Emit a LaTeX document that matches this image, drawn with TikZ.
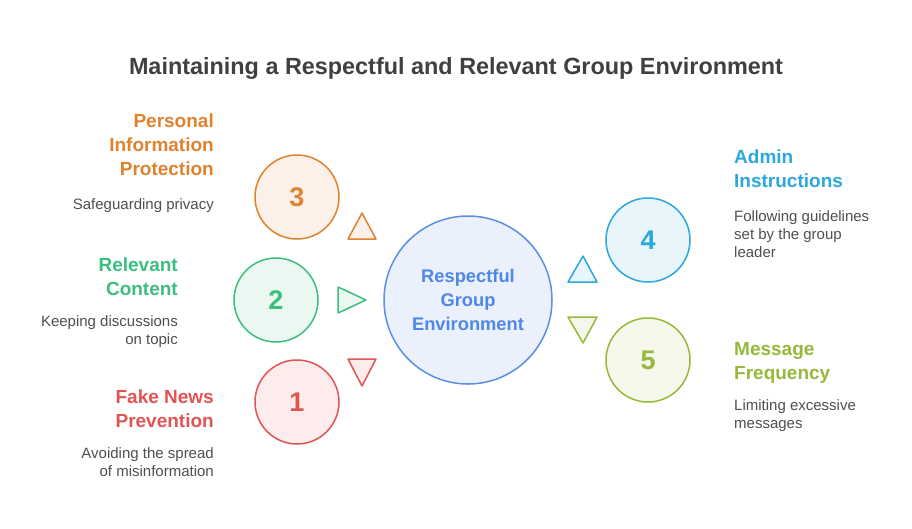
\documentclass[tikz,border=0pt]{standalone}
\usepackage{fontspec}
\setmainfont{Liberation Sans}
\definecolor{orangeC}{HTML}{E0822E}
\definecolor{greenC}{HTML}{3CBF7E}
\definecolor{redC}{HTML}{E05454}
\definecolor{cyanC}{HTML}{2CA8DA}
\definecolor{limeC}{HTML}{97B93B}
\definecolor{blueC}{HTML}{5A8EE8}
\definecolor{blueT}{HTML}{4F87E8}
\definecolor{titleC}{HTML}{404040}
\definecolor{descC}{HTML}{4F4F4F}
\tikzset{
  numcirc/.style = {circle, draw = #1, fill = #1!11, line width = 1.5, minimum size = 84, inner sep = 0,
    text = #1, font = \fontsize{27}{30}\selectfont\bfseries},
  tri/.style = {draw = #1, fill = #1!11, line width = 1.5, line join = round},
  headtxt/.style = {inner sep = 0, text = #1, font = \fontsize{19}{24}\selectfont\bfseries},
  desctxt/.style = {inner sep = 0, text = descC, font = \fontsize{15}{18}\selectfont}
}

\begin{document}
\begin{tikzpicture}[x = 1pt, y = -1pt]
    \useasboundingbox [fill = white] (0, 0) rectangle (912, 528);

    \node [inner sep = 0, text = titleC, font = \fontsize{23.4}{27}\selectfont\bfseries] (title) at (456, 68.5) {Maintaining a Respectful and Relevant Group Environment};

    % centre
    \node [circle, draw = blueC, fill = blueC!12, line width = 1.5, minimum size = 168, inner sep = 0,
      text = blueT, align = center, font = \fontsize{18.3}{24}\selectfont\bfseries] (centre) at (468, 300) {Respectful\\Group\\Environment};

    % numbered circles
    \node [numcirc = orangeC] (c3) at (297, 197) {3};
    \node [numcirc = greenC] (c2) at (276, 300) {2};
    \node [numcirc = redC] (c1) at (297, 402) {1};
    \node [numcirc = cyanC] (c4) at (648, 240) {4};
    \node [numcirc = limeC] (c5) at (648, 360) {5};

    % pointers
    \draw [tri = orangeC] (348, 239) -- (362, 213) -- (376, 239) -- cycle;
    \draw [tri = greenC] (338, 287) -- (366, 300) -- (338, 313) -- cycle;
    \draw [tri = redC] (348, 359) -- (376, 359) -- (362, 386) -- cycle;
    \draw [tri = cyanC] (568, 282) -- (583, 256) -- (597, 282) -- cycle;
    \draw [tri = limeC] (568, 317) -- (597, 317) -- (583, 343) -- cycle;

    % left texts
    \node [headtxt = orangeC, align = right, anchor = north east] (h3) at (214, 114) {Personal\\Information\\Protection};
    \node [desctxt, align = right, anchor = north east] (d3) at (214, 198.5) {Safeguarding privacy};
    \node [headtxt = greenC, align = right, anchor = north east] (h2) at (178, 258) {Relevant\\Content};
    \node [desctxt, align = right, anchor = north east] (d2) at (178, 315.5) {Keeping discussions\\on topic};
    \node [headtxt = redC, align = right, anchor = north east] (h1) at (214, 390) {Fake News\\Prevention};
    \node [desctxt, align = right, anchor = north east] (d1) at (214, 447.5) {Avoiding the spread\\of misinformation};

    % right texts
    \node [headtxt = cyanC, align = left, anchor = north west] (h4) at (734, 150) {Admin\\Instructions};
    \node [desctxt, align = left, anchor = north west] (d4) at (734, 210.5) {Following guidelines\\set by the group\\leader};
    \node [headtxt = limeC, align = left, anchor = north west] (h5) at (734, 342) {Message\\Frequency};
    \node [desctxt, align = left, anchor = north west] (d5) at (734, 399.5) {Limiting excessive\\messages};
\end{tikzpicture}
\end{document}
